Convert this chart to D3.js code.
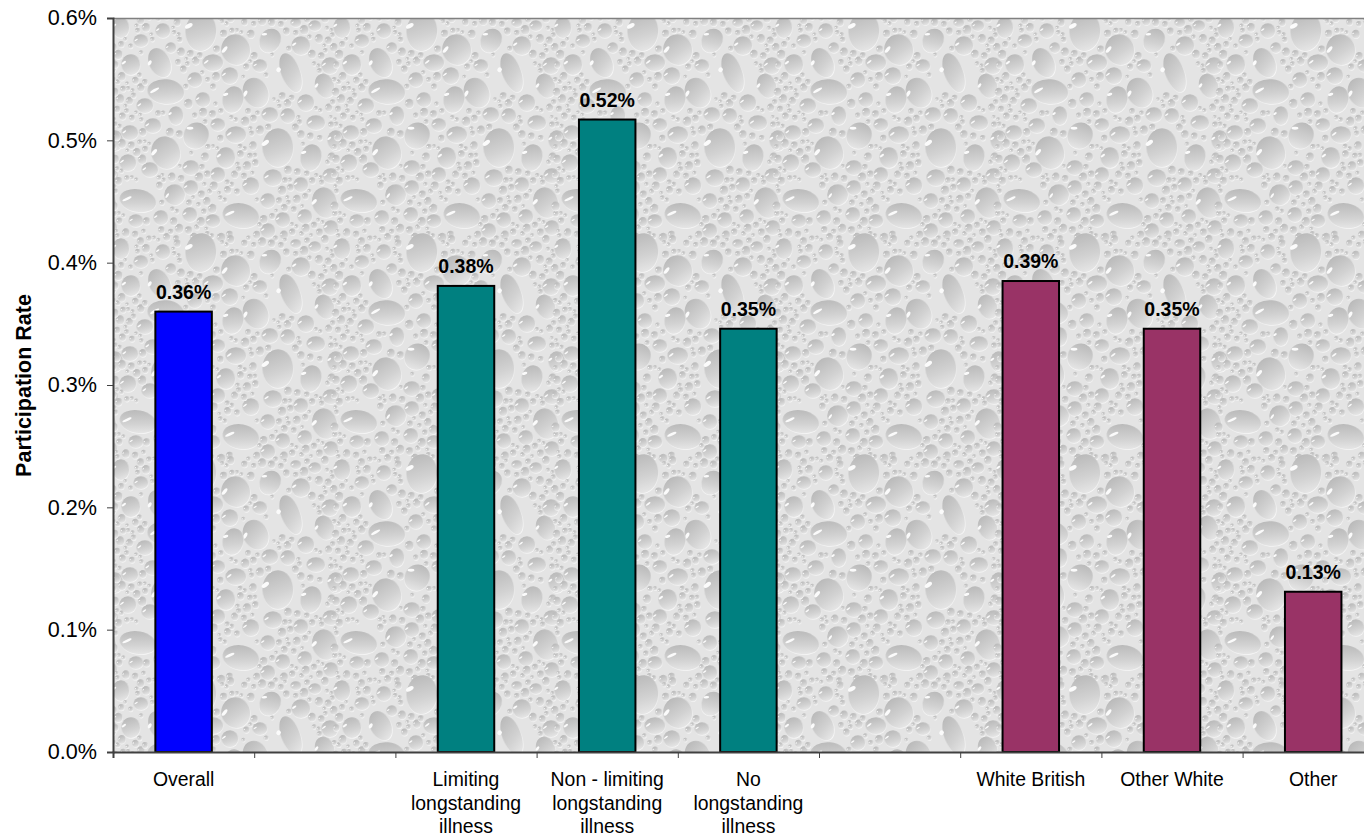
<!DOCTYPE html>
<html><head><meta charset="utf-8">
<script src="https://cdn.jsdelivr.net/npm/d3@7"></script>
<style>html,body{margin:0;padding:0;background:#fff;overflow:hidden}svg{display:block}text{font-family:"Liberation Sans",Arial,sans-serif;fill:#000}</style>
</head><body><div id="chart"></div>
<script>
const categories = [["Overall"],[],["Limiting","longstanding","illness"],["Non - limiting","longstanding","illness"],["No","longstanding","illness"],[],["White British"],["Other White"],["Other"]];
const values = [0.36,null,0.381,0.517,0.346,null,0.385,0.346,0.131];
const barColors = ["#0000ff",null,"#008080","#008080","#008080",null,"#993366","#993366","#993366"];
const yTicks = [0,0.1,0.2,0.3,0.4,0.5,0.6];
const axisTitle = "Participation Rate";
// background texture: one 221px tile of water drops [x,y,rx,ry,rotation]
const bigDrops = [[88,14,15,19,5],[123,32,14,15,-15],[47,45,10,15,-25],[18,47,9,10,0],[100,45,10,8,0],[178,55,9,20,-20],[212,68,9,12,-20],[143,75,12,15,-25],[53,74,18,12,5],[120,82,10,13,15],[157,23,10,12,30],[188,28,9,9,0],[217,48,8,8,0],[83,118,12,13,35],[53,135,14,16,-15],[165,130,15,19,0],[198,140,10,13,15],[17,115,8,7,0],[25,183,18,11,10],[62,177,10,10,-20],[128,198,18,12,10],[212,185,12,15,-15],[15,145,8,8,0],[37,152,8,7,0],[78,150,8,7,0],[105,157,7,7,0],[113,140,9,10,0],[123,117,10,8,0],[105,107,7,6,0],[40,108,8,7,0],[63,98,7,9,0],[32,88,8,7,0],[90,82,7,7,0],[82,62,7,7,0],[117,58,8,8,0],[147,48,7,6,0],[157,97,8,7,0],[175,98,7,7,0],[193,85,8,8,0],[203,105,9,7,0],[223,123,8,10,0],[160,160,9,8,0],[138,168,8,8,0],[188,167,7,7,0],[218,158,8,7,0],[78,170,7,7,0],[155,183,7,7,0],[170,202,7,7,0],[192,199,7,7,0],[218,210,7,7,0],[48,200,7,7,0],[23,203,7,6,0],[100,203,7,6,0],[77,197,7,7,0],[155,213,7,7,0],[50,13,7,7,0],[28,23,7,6,0],[58,30,5,5,0],[202,8,6,5,0],[183,5,5,4,0],[8,10,8,10,0]];
const bumpColor = "#e4e4e4";

const W = 1364, H = 837, plotLeft = 113, plotTop = 18, plotBottom = 752, n = categories.length, step = 141.2;
const svg = d3.select("#chart").append("svg").attr("width",W).attr("height",H);
const defs = svg.append("defs");
const tile = 221;

const grad = defs.append("linearGradient").attr("id","dropFill").attr("x1",0.3).attr("y1",0).attr("x2",0.6).attr("y2",1);
[[0,"#bababa"],[0.6,"#d2d2d2"],[1,"#e6e6e6"]].forEach(s=>grad.append("stop").attr("offset",s[0]).attr("stop-color",s[1]));
const rim = defs.append("linearGradient").attr("id","dropRim").attr("x1",0.25).attr("y1",0).attr("x2",0.65).attr("y2",1);
[[0,"#b4b4b4"],[0.5,"#dedede"],[1,"#f8f8f8"]].forEach(s=>rim.append("stop").attr("offset",s[0]).attr("stop-color",s[1]));
defs.append("filter").attr("id","soft").attr("x",0).attr("y",0).attr("width",1).attr("height",1).append("feGaussianBlur").attr("stdDeviation",0.55);

const pat = defs.append("pattern").attr("id","drops").attr("patternUnits","userSpaceOnUse").attr("width",tile).attr("height",tile).attr("patternTransform",`translate(${plotLeft},${plotTop})`);
const pg = pat.append("g").attr("filter","url(#soft)");
pg.append("rect").attr("width",tile).attr("height",tile).attr("fill",bumpColor);

// small droplets fill the gaps between the drops (low-discrepancy placement, deterministic)
const smallDrops = [];
d3.range(1500).forEach(i=>{
  const x0=(0.5+i*0.7548776662)%1*tile, y0=(0.5+i*0.5698402910)%1*tile;
  const r=1.3+((i*0.4142135)%1)*2.6;
  const clear=bigDrops.every(d=>{const dx=x0-d[0],dy=y0-d[1];const m=Math.max(d[2],d[3])+r+0.6;return dx*dx+dy*dy>m*m;})
    && smallDrops.every(d=>{const dx=x0-d[0],dy=y0-d[1];const m=d[2]+r+0.9;return dx*dx+dy*dy>m*m;});
  if(clear) smallDrops.push([x0,y0,r,r*1.12,0]);
});
const allDrops = bigDrops.concat(smallDrops);
[-tile,0,tile].forEach(ox=>[-tile,0,tile].forEach(oy=>{
  const g = pg.append("g").attr("transform",`translate(${ox},${oy})`);
  const d = g.selectAll("g").data(allDrops).join("g").attr("transform",a=>`translate(${a[0]},${a[1]}) rotate(${a[4]})`);
  d.append("ellipse").attr("rx",a=>a[2]+0.8).attr("ry",a=>a[3]+0.8).attr("fill","url(#dropRim)");
  d.append("ellipse").attr("rx",a=>a[2]).attr("ry",a=>a[3]).attr("fill","url(#dropFill)");
  d.append("ellipse").attr("cx",a=>-a[2]*0.5).attr("cy",a=>-a[3]*0.6).attr("rx",a=>Math.max(0.7,a[2]*0.28)).attr("ry",a=>Math.max(0.5,a[3]*0.11)).attr("transform","rotate(-35)").attr("fill","#fbfbfb");
}));

svg.append("rect").attr("x",plotLeft).attr("y",plotTop).attr("width",W-plotLeft).attr("height",plotBottom-plotTop).attr("fill","url(#drops)");

const y = d3.scaleLinear().domain([0,0.6]).range([plotBottom,plotTop]);
const edge = d3.scaleLinear().domain([0,n]).range([plotLeft,plotLeft+n*step]);
const x = d3.scaleBand().domain(d3.range(n)).range([plotLeft,plotLeft+n*step]).paddingInner(0.6).paddingOuter(0.3);

// top border
svg.append("line").attr("x1",plotLeft).attr("x2",W).attr("y1",plotTop+0.5).attr("y2",plotTop+0.5).attr("stroke","#808080").attr("stroke-width",1.5);

// bars
const data = values.map((v,i)=>({v,i})).filter(d=>d.v!==null);
svg.selectAll("rect.bar").data(data).join("rect").attr("class","bar")
  .attr("x",d=>x(d.i)).attr("width",x.bandwidth())
  .attr("y",d=>y(d.v)).attr("height",d=>plotBottom-y(d.v))
  .attr("fill",d=>barColors[d.i]).attr("stroke","#000").attr("stroke-width",2);

// value labels
svg.selectAll("text.val").data(data).join("text").attr("class","val")
  .attr("x",d=>x(d.i)+x.bandwidth()/2).attr("y",d=>y(d.v)-13)
  .attr("text-anchor","middle").attr("font-weight","bold").attr("font-size","19.5px")
  .text(d=>d3.format(".2f")(d.v)+"%");

// y axis
const ya = svg.append("g").attr("transform",`translate(${plotLeft},0)`)
  .call(d3.axisLeft(y).tickValues(yTicks).tickSize(6).tickPadding(10).tickFormat(d=>d3.format(".1f")(d)+"%"));
ya.selectAll("path").attr("stroke","#404040").attr("stroke-width",2);
ya.selectAll("line").attr("stroke","#404040");
ya.selectAll("text").attr("font-size","21.6px").attr("font-family",'"Liberation Sans"').attr("fill","#000");

// x axis
const xa = svg.append("g").attr("transform",`translate(0,${plotBottom})`)
  .call(d3.axisBottom(edge).tickValues(d3.range(n)).tickSize(6).tickFormat(""));
xa.selectAll("path").attr("stroke","#404040").attr("stroke-width",2);
xa.selectAll("line").attr("stroke","#404040");

// category labels
const labels = svg.selectAll("text.cat").data(categories).join("text").attr("class","cat")
  .attr("text-anchor","middle").attr("font-size","19.4px");
labels.selectAll("tspan").data((d,i)=>d.map((t,j)=>({t,j,i}))).join("tspan")
  .attr("x",d=>x(d.i)+x.bandwidth()/2).attr("y",d=>786+d.j*23.6).text(d=>d.t);

// axis title
svg.append("text").attr("transform",`translate(31,385.5) rotate(-90)`).attr("text-anchor","middle")
  .attr("font-weight","bold").attr("font-size","21.5px").text(axisTitle);
</script></body></html>
